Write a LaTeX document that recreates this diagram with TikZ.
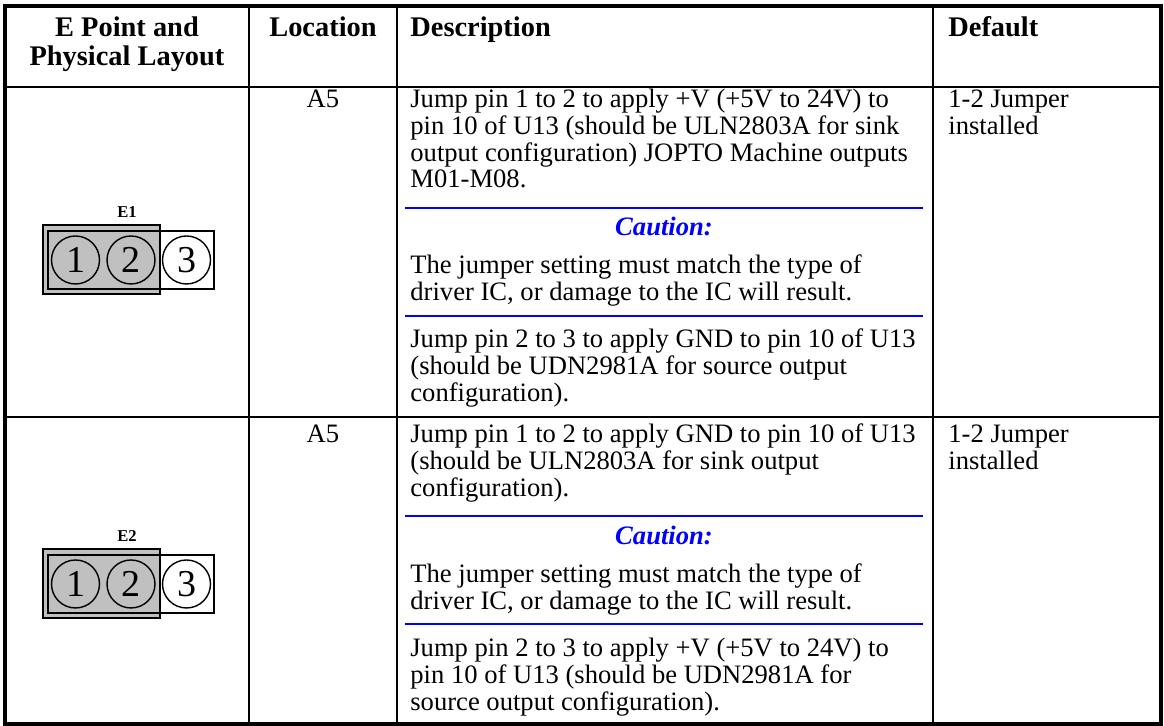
\documentclass[tikz,border=0pt]{standalone}
\usepackage{fontspec}
\setmainfont{Liberation Serif}
\usetikzlibrary{positioning}
\definecolor{jumpgray}{RGB}{192,192,192}
\definecolor{cautionblue}{RGB}{0,0,255}
\newcommand{\celll}[1]{\begin{tabular}[t]{@{}l@{}}#1\end{tabular}}
\newcommand{\cellc}[1]{\begin{tabular}[t]{@{}c@{}}#1\end{tabular}}

\begin{document}
\begin{tikzpicture}[x=0.5pt,y=-0.5pt,
		font=\fontsize{13.3}{13.25}\selectfont,
		every node/.style={inner sep=0pt},
		frame/.style={line width=1.6pt},
		rule/.style={line width=1.1pt},
		sep/.style={cautionblue,line width=1.3pt},
		txt/.style={anchor=base west},
		ctxt/.style={anchor=base},
		head/.style={font=\fontsize{14.2}{14}\selectfont\bfseries},
		caution/.style={anchor=base,text=cautionblue,font=\fontsize{13.3}{13.25}\selectfont\bfseries\itshape},
		pin/.style={draw,circle,line width=0.7pt,minimum size=24pt,font=\fontsize{19}{19}\selectfont},
		ept/.style={anchor=base,font=\fontsize{8.3}{9}\selectfont\bfseries}]
	\useasboundingbox (0,0) rectangle (1164,726);
	\draw[frame] (5,6) rectangle (1161,724);
	\foreach \cx in {249,397,933}
		\draw[rule] (\cx,6) -- (\cx,724);
	\foreach \ry in {87,417}
		\draw[rule] (5,\ry) -- (1161,\ry);
	\foreach \by in {208,316,516,624}
		\draw[sep] (405,\by) -- (923,\by);
	\node (hpoint) [head,ctxt] at (127,37) {\cellc{E Point and\\Physical Layout}};
	\node (hloc) [head,ctxt] at (323,37) {Location};
	\node (hdesc) [head,txt] at (410,37) {Description};
	\node (hdef) [head,txt] at (948,37) {Default};
	\node (locone) [ctxt] at (323,108) {A5};
	\node (sinkone) [txt] at (410,108) {\celll{Jump pin 1 to 2 to apply +V (+5V to 24V) to\\
		pin 10 of U13 (should be ULN2803A for sink\\
		output configuration) JOPTO Machine outputs\\
		M01-M08.}};
	\node (cautone) [caution] at (664,236) {Caution:};
	\node (warnone) [txt] at (410,274) {\celll{The jumper setting must match the type of\\
		driver IC, or damage to the IC will result.}};
	\node (srcone) [txt] at (410,348) {\celll{Jump pin 2 to 3 to apply GND to pin 10 of U13\\
		(should be UDN2981A for source output\\
		configuration).}};
	\node (defone) [txt] at (948,108) {\celll{1-2 Jumper\\installed}};
	\node (loctwo) [ctxt] at (323,443) {A5};
	\node (sinktwo) [txt] at (410,443) {\celll{Jump pin 1 to 2 to apply GND to pin 10 of U13\\
		(should be ULN2803A for sink output\\
		configuration).}};
	\node (cauttwo) [caution] at (664,545) {Caution:};
	\node (warntwo) [txt] at (410,583) {\celll{The jumper setting must match the type of\\
		driver IC, or damage to the IC will result.}};
	\node (srctwo) [txt] at (410,657) {\celll{Jump pin 2 to 3 to apply +V (+5V to 24V) to\\
		pin 10 of U13 (should be UDN2981A for\\
		source output configuration).}};
	\node (deftwo) [txt] at (948,443) {\celll{1-2 Jumper\\installed}};
	\foreach \ep/\cy in {E1/260,E2/584} {
		\fill[jumpgray] (43,\cy-35) rectangle (160,\cy+34);
		\draw[line width=1.2pt] (43,\cy-35) rectangle (160,\cy+34);
		\draw[line width=1pt] (48,\cy-29) rectangle (214,\cy+29);
		\node (\ep-1) [pin] at (75.5,\cy) {1};
		\node (\ep-2) [pin] at (131,\cy) {2};
		\node (\ep-3) [pin] at (186.5,\cy) {3};
		\node (\ep-lbl) [ept] at (127,\cy-42) {\ep};
	}
\end{tikzpicture}
\end{document}
